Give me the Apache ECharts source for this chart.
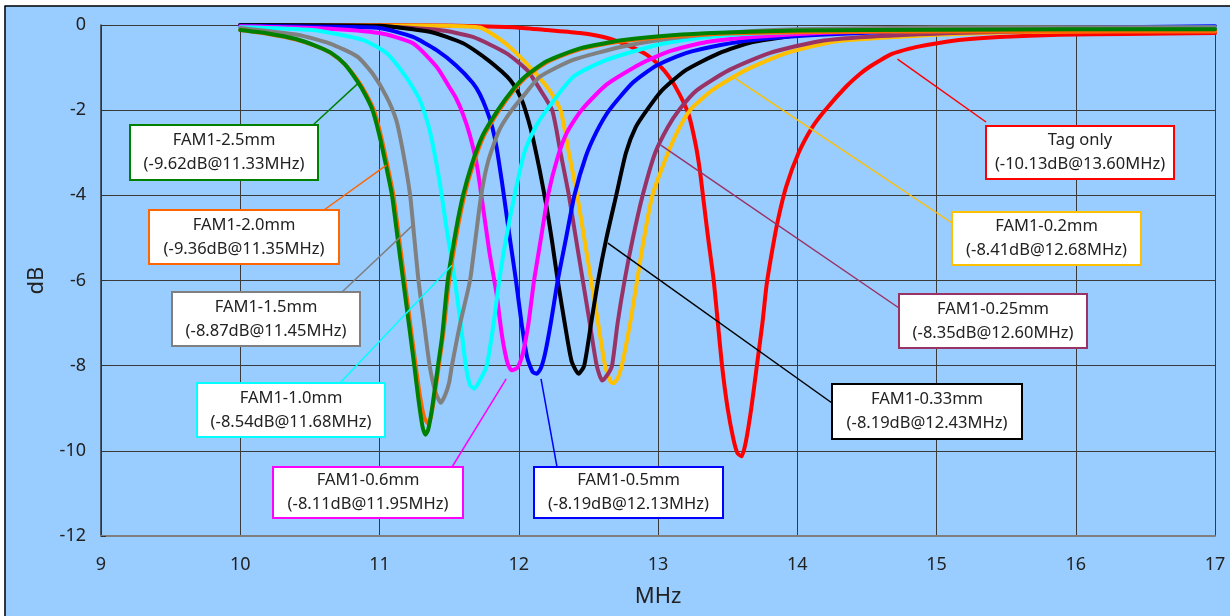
<!DOCTYPE html>
<html>
<head>
<meta charset="utf-8">
<script src="https://cdn.jsdelivr.net/npm/echarts/dist/echarts.min.js"></script>
<style>
html,body{margin:0;padding:0;background:#fff;}
#chart{width:1230px;height:616px;}
</style>
</head>
<body>
<div id="chart"></div>
<script>
// ---- Data (frequency MHz, dB) ----
const xTicks = [9, 10, 11, 12, 13, 14, 15, 16, 17];
const yTicks = [0, -2, -4, -6, -8, -10, -12];

const seriesNames = ['Tag only','FAM1-0.2mm','FAM1-0.25mm','FAM1-0.33mm','FAM1-0.5mm','FAM1-0.6mm','FAM1-1.0mm','FAM1-1.5mm','FAM1-2.0mm','FAM1-2.5mm'];
const peakTexts = ['(-10.13dB@13.60MHz)','(-8.41dB@12.68MHz)','(-8.35dB@12.60MHz)','(-8.19dB@12.43MHz)','(-8.19dB@12.13MHz)','(-8.11dB@11.95MHz)','(-8.54dB@11.68MHz)','(-8.87dB@11.45MHz)','(-9.36dB@11.35MHz)','(-9.62dB@11.33MHz)'];

const tagOnly = [[10.00,0],[11.0,0],[11.96,-0.05],[12.2,-0.12],[12.44,-0.19],[12.63,-0.3],[12.80,-0.5],[12.92,-0.7],[13.01,-0.95],[13.08,-1.22],[13.15,-1.6],[13.22,-2.1],[13.27,-2.8],[13.30,-3.4],[13.33,-4.2],[13.36,-5.0],[13.40,-6.0],[13.43,-7.0],[13.46,-8.0],[13.50,-9.0],[13.54,-9.7],[13.57,-10.05],[13.60,-10.13],[13.63,-9.8],[13.67,-9.0],[13.71,-8.0],[13.75,-7.0],[13.78,-6.1],[13.82,-5.3],[13.86,-4.6],[13.92,-3.8],[14.01,-3.0],[14.11,-2.39],[14.20,-2.0],[14.35,-1.45],[14.45,-1.15],[14.52,-0.98],[14.60,-0.82],[14.68,-0.68],[14.80,-0.56],[14.93,-0.47],[15.16,-0.35],[15.45,-0.28],[15.88,-0.23],[16.36,-0.21],[17,-0.19]];

const fam0_2 = [[10.00,0],[11.0,-0.01],[11.5,-0.02],[11.72,-0.06],[11.85,-0.3],[11.96,-0.59],[12.10,-1.06],[12.22,-1.53],[12.30,-2.0],[12.36,-3.0],[12.42,-4.0],[12.47,-5.0],[12.52,-6.0],[12.57,-7.0],[12.62,-8.0],[12.66,-8.38],[12.68,-8.41],[12.71,-8.3],[12.74,-8.0],[12.80,-7.0],[12.85,-6.0],[12.90,-5.0],[12.96,-4.0],[13.06,-3.1],[13.14,-2.5],[13.23,-2.0],[13.39,-1.53],[13.63,-1.06],[13.92,-0.66],[14.28,-0.38],[14.6,-0.3],[15.0,-0.23],[15.5,-0.17],[16.3,-0.14],[17,-0.12]];

const fam0_25 = [[10.00,0],[11.0,-0.03],[11.43,-0.12],[11.67,-0.28],[11.91,-0.66],[12.06,-1.06],[12.15,-1.5],[12.24,-2.0],[12.30,-3.0],[12.36,-4.0],[12.41,-5.0],[12.46,-6.0],[12.51,-7.0],[12.56,-8.0],[12.60,-8.35],[12.64,-8.2],[12.67,-8.0],[12.71,-7.0],[12.76,-6.0],[12.82,-5.0],[12.89,-4.0],[12.98,-3.0],[13.07,-2.4],[13.15,-2.0],[13.28,-1.53],[13.51,-1.06],[13.80,-0.66],[14.16,-0.38],[14.6,-0.26],[15.2,-0.18],[16,-0.13],[17,-0.1]];

const fam0_33 = [[10.00,0],[11.0,-0.02],[11.36,-0.16],[11.60,-0.43],[11.77,-0.8],[11.88,-1.1],[11.94,-1.3],[11.99,-1.55],[12.03,-1.83],[12.07,-2.25],[12.10,-2.63],[12.15,-3.4],[12.20,-4.27],[12.24,-5.1],[12.28,-6.0],[12.33,-7.0],[12.38,-7.9],[12.43,-8.19],[12.47,-8.0],[12.52,-7.0],[12.57,-6.0],[12.63,-5.0],[12.70,-4.0],[12.77,-3.0],[12.84,-2.4],[12.92,-2.0],[13.03,-1.53],[13.20,-1.06],[13.44,-0.66],[13.68,-0.4],[14.04,-0.23],[14.6,-0.14],[15.5,-0.1],[17,-0.08]];

const fam0_5 = [[10.00,-0.02],[10.6,-0.04],[11.0,-0.07],[11.24,-0.28],[11.41,-0.59],[11.55,-0.95],[11.67,-1.36],[11.72,-1.62],[11.77,-2.0],[11.81,-2.4],[11.84,-2.86],[11.88,-3.7],[11.91,-4.4],[11.94,-5.1],[11.98,-6.0],[12.02,-7.0],[12.06,-7.8],[12.10,-8.15],[12.13,-8.19],[12.16,-8.05],[12.19,-7.7],[12.23,-7.0],[12.28,-6.0],[12.34,-5.0],[12.40,-4.0],[12.48,-3.1],[12.56,-2.5],[12.65,-2.0],[12.82,-1.35],[12.99,-0.95],[13.20,-0.66],[13.45,-0.47],[13.68,-0.35],[14.16,-0.23],[15,-0.12],[16,-0.06],[17,-0.03]];

const fam0_6 = [[10.00,-0.03],[10.6,-0.08],[11.0,-0.19],[11.24,-0.43],[11.41,-0.98],[11.50,-1.45],[11.55,-1.72],[11.60,-2.1],[11.65,-2.6],[11.70,-3.3],[11.74,-4.2],[11.79,-5.35],[11.84,-6.3],[11.88,-7.3],[11.92,-7.95],[11.95,-8.11],[11.99,-8.05],[12.03,-7.7],[12.07,-7.0],[12.11,-6.0],[12.16,-5.0],[12.21,-4.0],[12.28,-3.1],[12.35,-2.5],[12.45,-2.0],[12.63,-1.4],[12.87,-0.92],[13.08,-0.62],[13.35,-0.4],[13.68,-0.28],[14.2,-0.18],[15,-0.12],[16,-0.1],[17,-0.1]];

const fam1_0 = [[10.00,-0.05],[10.52,-0.12],[10.88,-0.35],[11.05,-0.66],[11.19,-1.22],[11.29,-1.76],[11.36,-2.47],[11.43,-3.64],[11.48,-4.74],[11.53,-5.75],[11.58,-6.93],[11.62,-8.0],[11.65,-8.45],[11.68,-8.54],[11.72,-8.35],[11.77,-8.0],[11.82,-7.0],[11.86,-6.0],[11.91,-5.0],[11.97,-4.0],[12.04,-3.0],[12.12,-2.4],[12.20,-2.0],[12.39,-1.22],[12.63,-0.82],[12.99,-0.47],[13.3,-0.3],[13.7,-0.2],[14.5,-0.12],[15.5,-0.08],[17,-0.06]];

const fam1_5 = [[10.00,-0.07],[10.41,-0.23],[10.64,-0.43],[10.84,-0.74],[10.95,-1.14],[11.05,-1.68],[11.12,-2.23],[11.17,-3.0],[11.22,-4.0],[11.25,-5.0],[11.28,-6.0],[11.32,-7.0],[11.36,-8.0],[11.40,-8.6],[11.44,-8.87],[11.47,-8.7],[11.50,-8.4],[11.52,-8.0],[11.58,-7.0],[11.65,-6.0],[11.69,-5.0],[11.73,-4.0],[11.78,-3.2],[11.86,-2.47],[11.95,-2.0],[12.05,-1.6],[12.15,-1.22],[12.39,-0.82],[12.74,-0.51],[13.10,-0.31],[13.5,-0.18],[14,-0.1],[15,-0.06],[16,-0.05],[17,-0.05]];

const fam2_0 = [[10.00,-0.12],[10.20,-0.21],[10.40,-0.34],[10.55,-0.5],[10.65,-0.66],[10.75,-0.92],[10.85,-1.33],[10.91,-1.66],[10.96,-2.0],[11.01,-2.6],[11.06,-3.35],[11.10,-4.0],[11.14,-5.0],[11.18,-6.0],[11.22,-7.0],[11.26,-8.0],[11.29,-8.7],[11.32,-9.2],[11.35,-9.36],[11.37,-9.2],[11.40,-8.6],[11.43,-7.9],[11.46,-7.2],[11.50,-6.0],[11.56,-4.8],[11.61,-4.0],[11.67,-3.3],[11.75,-2.6],[11.86,-2.0],[11.96,-1.55],[12.06,-1.2],[12.21,-0.86],[12.45,-0.56],[12.75,-0.38],[13.10,-0.27],[13.5,-0.2],[14,-0.17],[15,-0.15],[16,-0.15],[17,-0.15]];

const fam2_5 = [[10.00,-0.12],[10.20,-0.2],[10.40,-0.33],[10.55,-0.5],[10.65,-0.65],[10.75,-0.92],[10.84,-1.32],[10.90,-1.65],[10.95,-2.0],[11.00,-2.6],[11.05,-3.35],[11.09,-4.0],[11.13,-5.0],[11.17,-6.0],[11.21,-7.0],[11.25,-8.0],[11.28,-8.8],[11.31,-9.45],[11.33,-9.62],[11.35,-9.5],[11.38,-8.95],[11.42,-8.0],[11.45,-7.3],[11.49,-6.0],[11.55,-4.8],[11.60,-4.0],[11.66,-3.3],[11.74,-2.6],[11.85,-2.0],[11.95,-1.55],[12.05,-1.2],[12.20,-0.85],[12.44,-0.55],[12.74,-0.36],[13.10,-0.24],[13.44,-0.18],[14.0,-0.13],[15,-0.11],[16,-0.1],[17,-0.1]];

const allData = [tagOnly, fam0_2, fam0_25, fam0_33, fam0_5, fam0_6, fam1_0, fam1_5, fam2_0, fam2_5];

// Anchor points on the curves where the leader lines end (MHz, dB)
const anchorF  = [14.72, 13.53, 13.02, 12.64, 12.16, 11.91, 11.52, 11.24, 11.05, 10.85];
const anchorDB = [-0.80, -1.20, -2.82, -5.12, -8.31, -8.31, -5.64, -4.70, -3.29, -1.36];

// ---- Styles / layout ----
const colors = ['#FF0000','#FFC000','#993366','#000000','#0000FF','#FF00FF','#00FFFF','#808080','#FF6600','#008000'];
// label boxes [x, y, w, h] and leader-line start point on the box [x, y]
const boxes = [[986,126,188,53],[952,212,189,53],[899,294,188,54],[832,384,190,55],[534,467,189,51],[273,467,190,51],[197,383,188,54],[172,292,188,54],[149,210,190,54],[130,125,188,55]];
const leadStart = [[986,122],[952,223],[899,308],[832,403],[557,467],[452,467],[340,383],[342,292],[324,210],[313,125]];

const FONT = '"Noto Sans", "Open Sans", sans-serif';

const chart = echarts.init(document.getElementById('chart'), null, {renderer: 'canvas'});

const bgGraphics = [
  {type:'rect', shape:{x:0,y:0,width:1230,height:5.5}, style:{fill:'#ffffff'}, z:100},
  {type:'rect', shape:{x:0,y:0,width:4.5,height:616}, style:{fill:'#ffffff'}, z:100},
  {type:'line', shape:{x1:4.5,y1:6,x2:1230,y2:6}, style:{stroke:'#000',lineWidth:1.5}, z:100},
  {type:'line', shape:{x1:5,y1:6,x2:5,y2:616}, style:{stroke:'#000',lineWidth:1.5}, z:100}
];

const option = {
  backgroundColor: '#99CCFF',
  animation: false,
  grid: {left: 101, right: 15, top: 25, bottom: 80, containLabel: false},
  xAxis: {
    type: 'value', min: xTicks[0], max: xTicks[xTicks.length-1], interval: 1,
    name: 'MHz', nameLocation: 'middle', nameGap: 50,
    nameTextStyle: {fontSize: 22, color: '#222', fontFamily: FONT},
    axisLine: {show: true, onZero: false, lineStyle: {color: '#7f7f7f', width: 2}},
    axisTick: {show: false},
    axisLabel: {fontSize: 18, color: '#222', margin: 20, fontFamily: FONT,
      formatter: v => xTicks.includes(v) ? String(v) : ''},
    splitLine: {show: true, lineStyle: {color: '#3a3a3a', width: 1}}
  },
  yAxis: {
    type: 'value', min: yTicks[yTicks.length-1], max: yTicks[0], interval: 2,
    name: 'dB', nameLocation: 'middle', nameGap: 53, nameRotate: 90,
    nameTextStyle: {fontSize: 22, color: '#222', fontFamily: FONT},
    axisLine: {show: true, onZero: false, lineStyle: {color: '#333', width: 1.5}},
    axisTick: {show: true, inside: true, length: 5, lineStyle: {color: '#333'}},
    axisLabel: {fontSize: 18, color: '#222', margin: 15, fontFamily: FONT},
    splitLine: {show: true, lineStyle: {color: '#3a3a3a', width: 1}}
  },
  series: allData.map((d, i) => ({
    name: seriesNames[i],
    type: 'line',
    data: d,
    showSymbol: false,
    symbol: 'none',
    smooth: 0.2,
    clip: false,
    lineStyle: {color: colors[i], width: 4, join: 'round', cap: 'round'},
    itemStyle: {color: colors[i]},
    z: 2 + i
  })),
  graphic: {elements: bgGraphics}
};
chart.setOption(option);

// annotations: boxes + leader lines
const annot = [];
for (let i = 0; i < seriesNames.length; i++) {
  const p = chart.convertToPixel({gridIndex: 0}, [anchorF[i], anchorDB[i]]);
  annot.push({type:'line', shape:{x1:leadStart[i][0], y1:leadStart[i][1], x2:p[0], y2:p[1]},
    style:{stroke: colors[i], lineWidth: 1.5}, z: 50});
}
for (let i = 0; i < seriesNames.length; i++) {
  const b = boxes[i];
  annot.push({type:'rect', shape:{x:b[0], y:b[1], width:b[2], height:b[3]},
    style:{fill:'#ffffff', stroke: colors[i], lineWidth: 2}, z: 60});
  annot.push({type:'text', x: b[0] + b[2]/2, y: b[1] + b[3]/2,
    style:{text: seriesNames[i] + '\n' + peakTexts[i], fill:'#222', font: '16.5px ' + FONT,
      align:'center', verticalAlign:'middle', lineHeight: 24}, z: 61});
}
chart.setOption({graphic: {elements: bgGraphics.concat(annot)}});
</script>
</body>
</html>
